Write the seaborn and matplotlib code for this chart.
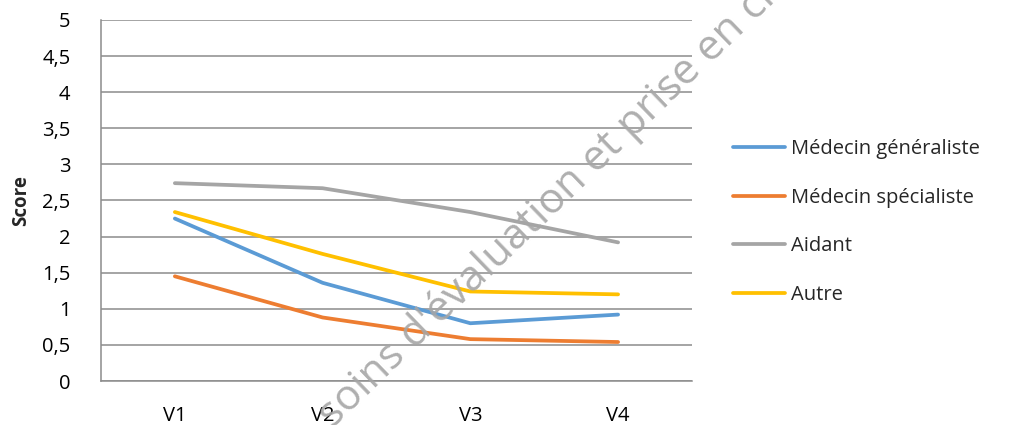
import matplotlib
matplotlib.use("Agg")
import matplotlib.pyplot as plt
import seaborn as sns
import pandas as pd
from matplotlib.ticker import FuncFormatter

visits = ["V1", "V2", "V3", "V4"]
generaliste = [2.25, 1.36, 0.80, 0.92]
specialiste = [1.45, 0.88, 0.58, 0.54]
aidant = [2.74, 2.67, 2.34, 1.92]
autre = [2.34, 1.76, 1.24, 1.20]
series_names = ["Médecin généraliste", "Médecin spécialiste", "Aidant", "Autre"]
colors = ["#5B9BD5", "#ED7D31", "#A5A5A5", "#FFC000"]
y_ticks = [0, 0.5, 1, 1.5, 2, 2.5, 3, 3.5, 4, 4.5, 5]

rows = []
for name, vals in zip(series_names, [generaliste, specialiste, aidant, autre]):
    for v, s in zip(visits, vals):
        rows.append({"Visite": v, "Score": s, "Groupe": name})
df = pd.DataFrame(rows)

sns.set_theme(style="white")
plt.rcParams["font.family"] = ["Open Sans", "DejaVu Sans"]

fig = plt.figure(figsize=(10.14, 4.25), dpi=100)
ax = fig.add_axes([0.0996, 0.1035, 0.5828, 0.8495])

sns.lineplot(data=df, x="Visite", y="Score", hue="Groupe", hue_order=series_names,
             palette=colors, linewidth=2.7, sort=False, ax=ax, legend=True)

ax.set_xlim(-0.5, 3.5)
ax.set_ylim(0, 5)
ax.set_yticks(y_ticks)
ax.yaxis.set_major_formatter(FuncFormatter(lambda v, p: f"{v:g}".replace(".", ",")))
ax.grid(axis="y", color="#8C8C8C", linewidth=1.1)
ax.set_axisbelow(True)
for side in ["top", "right"]:
    ax.spines[side].set_visible(False)
for side in ["left", "bottom"]:
    ax.spines[side].set_color("#8C8C8C")
    ax.spines[side].set_linewidth(1.1)
ax.tick_params(axis="both", length=0, labelsize=14.5, colors="black")
ax.tick_params(axis="y", pad=22)
ax.tick_params(axis="x", pad=18)
ax.set_xlabel("")
ax.set_ylabel("Score", fontsize=13.5, fontweight="bold", labelpad=8)

leg = ax.legend(loc="center left", bbox_to_anchor=(1.055, 0.44), frameon=False,
                borderaxespad=0, fontsize=14.5, handlelength=2.6, handletextpad=0.3,
                labelspacing=1.42)
for line in leg.get_lines():
    line.set_linewidth(2.7)

fig.text(333 / 1014, -0.01, "soins d'évaluation et prise en charge", rotation=44,
         fontsize=30.5, fontweight="medium", color="#A6A6A6", alpha=0.9,
         ha="left", va="baseline", rotation_mode="anchor", zorder=5)

fig.savefig("out.png", dpi=100, facecolor="white")
